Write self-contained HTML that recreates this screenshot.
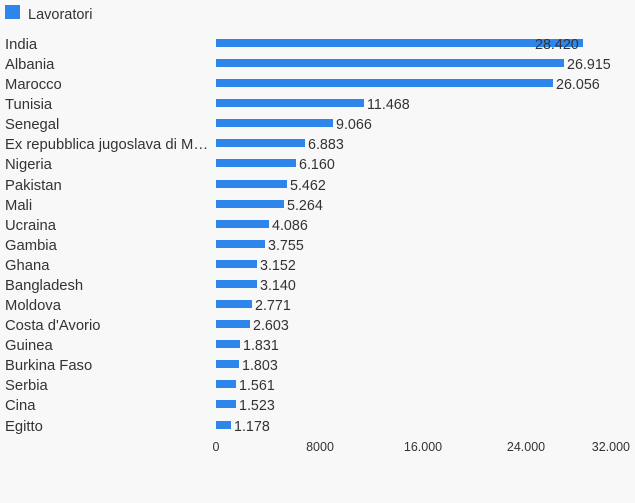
<!DOCTYPE html>
<html><head><style>
html,body{margin:0;padding:0;background:#f8f8f8;overflow:hidden;}
svg{display:block;}
svg text{font-family:"Liberation Sans",sans-serif;fill:#333;}
.l{font-size:14.8px;}
</style></head><body>
<svg width="635" height="503" xmlns="http://www.w3.org/2000/svg">
<rect width="635" height="503" fill="#f8f8f8"/>
<rect x="5" y="5" width="15" height="14" fill="#2f86ea"/>
<text x="28" y="19" font-size="14.5">Lavoratori</text>
<g font-size="14.3">
<text class="l" x="5" y="49">India</text><rect x="216" y="39" width="367" height="8" fill="#2f86ea"/><text x="535" y="49">28.420</text>
<text class="l" x="5" y="69">Albania</text><rect x="216" y="59" width="348" height="8" fill="#2f86ea"/><text x="567" y="69">26.915</text>
<text class="l" x="5" y="89">Marocco</text><rect x="216" y="79" width="337" height="8" fill="#2f86ea"/><text x="556" y="89">26.056</text>
<text class="l" x="5" y="109">Tunisia</text><rect x="216" y="99" width="148" height="8" fill="#2f86ea"/><text x="367" y="109">11.468</text>
<text class="l" x="5" y="129">Senegal</text><rect x="216" y="119" width="117" height="8" fill="#2f86ea"/><text x="336" y="129">9.066</text>
<text class="l" x="5" y="149">Ex repubblica jugoslava di M…</text><rect x="216" y="139" width="89" height="8" fill="#2f86ea"/><text x="308" y="149">6.883</text>
<text class="l" x="5" y="169">Nigeria</text><rect x="216" y="159" width="80" height="8" fill="#2f86ea"/><text x="299" y="169">6.160</text>
<text class="l" x="5" y="190">Pakistan</text><rect x="216" y="180" width="71" height="8" fill="#2f86ea"/><text x="290" y="190">5.462</text>
<text class="l" x="5" y="210">Mali</text><rect x="216" y="200" width="68" height="8" fill="#2f86ea"/><text x="287" y="210">5.264</text>
<text class="l" x="5" y="230">Ucraina</text><rect x="216" y="220" width="53" height="8" fill="#2f86ea"/><text x="272" y="230">4.086</text>
<text class="l" x="5" y="250">Gambia</text><rect x="216" y="240" width="49" height="8" fill="#2f86ea"/><text x="268" y="250">3.755</text>
<text class="l" x="5" y="270">Ghana</text><rect x="216" y="260" width="41" height="8" fill="#2f86ea"/><text x="260" y="270">3.152</text>
<text class="l" x="5" y="290">Bangladesh</text><rect x="216" y="280" width="41" height="8" fill="#2f86ea"/><text x="260" y="290">3.140</text>
<text class="l" x="5" y="310">Moldova</text><rect x="216" y="300" width="36" height="8" fill="#2f86ea"/><text x="255" y="310">2.771</text>
<text class="l" x="5" y="330">Costa d'Avorio</text><rect x="216" y="320" width="34" height="8" fill="#2f86ea"/><text x="253" y="330">2.603</text>
<text class="l" x="5" y="350">Guinea</text><rect x="216" y="340" width="24" height="8" fill="#2f86ea"/><text x="243" y="350">1.831</text>
<text class="l" x="5" y="370">Burkina Faso</text><rect x="216" y="360" width="23" height="8" fill="#2f86ea"/><text x="242" y="370">1.803</text>
<text class="l" x="5" y="390">Serbia</text><rect x="216" y="380" width="20" height="8" fill="#2f86ea"/><text x="239" y="390">1.561</text>
<text class="l" x="5" y="410">Cina</text><rect x="216" y="400" width="20" height="8" fill="#2f86ea"/><text x="239" y="410">1.523</text>
<text class="l" x="5" y="431">Egitto</text><rect x="216" y="421" width="15" height="8" fill="#2f86ea"/><text x="234" y="431">1.178</text>
</g>
<g font-size="12.5" text-anchor="middle">
<text x="216" y="451">0</text>
<text x="320" y="451">8000</text>
<text x="423" y="451">16.000</text>
<text x="526" y="451">24.000</text>
<text x="630" y="451" text-anchor="end">32.000</text>
</g>
</svg>
</body></html>
